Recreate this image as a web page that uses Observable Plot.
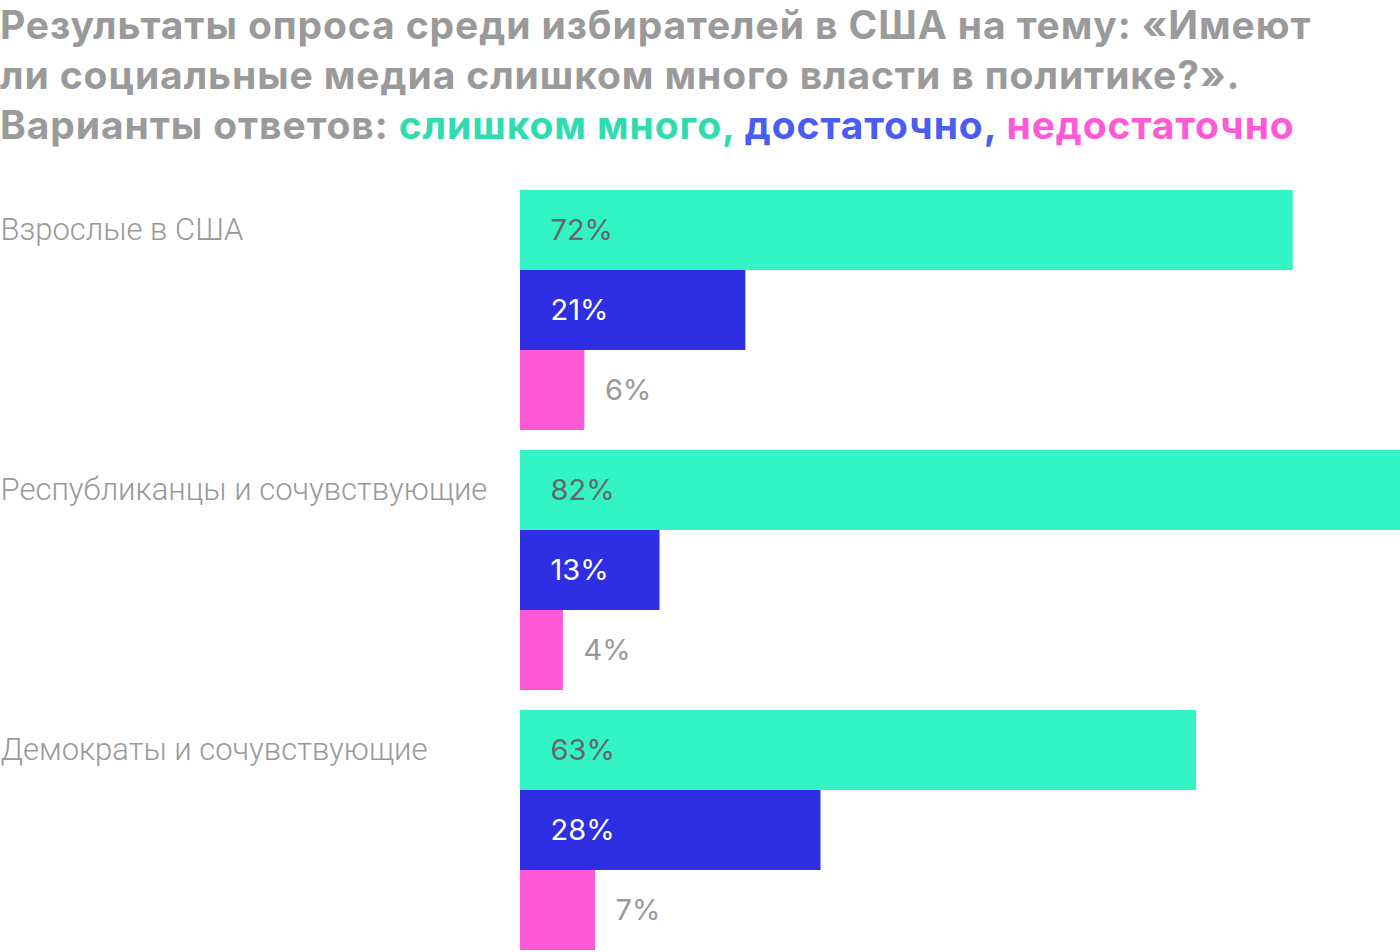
<!DOCTYPE html>
<html>
<head>
<meta charset="utf-8">
<script src="https://cdn.jsdelivr.net/npm/d3@7"></script>
<script src="https://cdn.jsdelivr.net/npm/@observablehq/plot@0.6"></script>
<style>
  html, body { margin: 0; padding: 0; background: #fff; }
  body { width: 1400px; height: 952px; overflow: hidden; font-family: Inter, Roboto, sans-serif; }
  #title { height: 160px; font-weight: 700; font-size: 39px; line-height: 50px; color: #9a9a9a; letter-spacing: 0.9px; margin-top: 0; white-space: nowrap; }
  .g { color: #2fdcb2; } .b { color: #4b5cf4; } .p { color: #ff5ad6; }
  #chart svg { display: block; }
</style>
</head>
<body>
<div id="title">Результаты опроса среди избирателей в США на тему: «Имеют<br>ли социальные медиа слишком много власти в политике?».<br>Варианты ответов: <span class="g">слишком много,</span> <span class="b">достаточно,</span> <span class="p">недостаточно</span></div>
<div id="chart"></div>
<script>
const groups = ["Взрослые в США", "Республиканцы и сочувствующие", "Демократы и сочувствующие"];
const answers = ["слишком много", "достаточно", "недостаточно"];
const tooMuch = [72, 82, 63];
const enough = [21, 13, 28];
const notEnough = [6, 4, 7];
const colors = ["#33f4c5", "#2e2ee2", "#ff5ad6"];
const labelColors = ["#666666", "#ffffff", "#999999"];

const seriesValues = [tooMuch, enough, notEnough];
const data = [];
groups.forEach((g, gi) => {
  answers.forEach((a, ai) => {
    data.push({group: g, answer: a, value: seriesValues[ai][gi]});
  });
});
const inside = data.filter(d => d.answer !== "недостаточно");
const outside = data.filter(d => d.answer === "недостаточно");

const chart = Plot.plot({
  width: 1400,
  height: 792,
  marginLeft: 520,
  marginRight: 0,
  marginTop: 30,
  marginBottom: 2,
  style: {fontFamily: "Inter, Roboto, sans-serif", background: "#fff"},
  x: {domain: [0, 82], axis: null},
  y: {domain: answers, padding: 0, axis: null},
  fy: {domain: groups, paddingInner: 20 / 260, paddingOuter: 0, axis: null},
  color: {domain: answers, range: colors},
  marks: [
    Plot.barX(data, {x: "value", y: "answer", fy: "group", fill: "answer"}),
    Plot.text(inside, {x: 0, y: "answer", fy: "group", text: d => d.value + "%", dx: 30, textAnchor: "start", fontSize: 29, fill: d => labelColors[answers.indexOf(d.answer)]}),
    Plot.text(outside, {x: "value", y: "answer", fy: "group", text: d => d.value + "%", dx: 20, textAnchor: "start", fontSize: 29, fill: labelColors[2]}),
    Plot.text(groups, {fy: d => d, y: () => answers[0], frameAnchor: "left", dx: -520, textAnchor: "start", text: d => d, fontSize: 31, fontWeight: 300, fontFamily: "Roboto, sans-serif", fill: "#999999"})
  ]
});
document.getElementById("chart").appendChild(chart);
</script>
</body>
</html>
